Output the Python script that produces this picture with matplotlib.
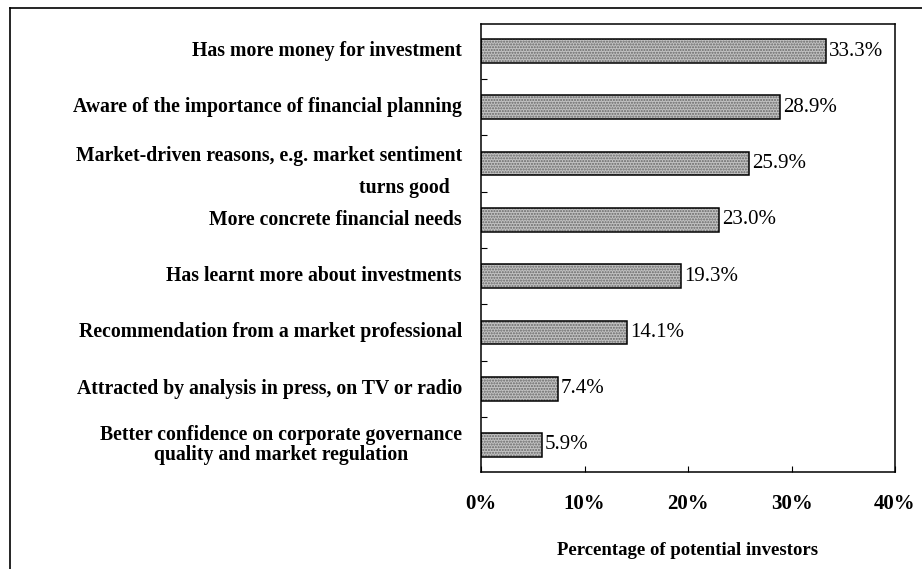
import matplotlib
matplotlib.use("Agg")
import matplotlib.pyplot as plt
from matplotlib.lines import Line2D
import numpy as np

# reasons, top to bottom
reasons = [
    "Has more money for investment",
    "Aware of the importance of financial planning",
    "Market-driven reasons, e.g. market sentiment",
    "More concrete financial needs",
    "Has learnt more about investments",
    "Recommendation from a market professional",
    "Attracted by analysis in press, on TV or radio",
    "Better confidence on corporate governance\nquality and market regulation",
]
# second line of the market-driven label, set a little left of the others
reason_2_tail = "turns good"
# share of potential investors (%)
shares = [33.3, 28.9, 25.9, 23.0, 19.3, 14.1, 7.4, 5.9]
x_ticks = [0, 10, 20, 30, 40]
x_tick_labels = ["0%", "10%", "20%", "30%", "40%"]

SERIF = ["Liberation Serif", "DejaVu Serif"]
LABEL_SIZE = 14.2

fig = plt.figure(figsize=(9.22, 5.69), dpi=100)
ax = fig.add_axes([481 / 922, 1 - 472 / 569, 414 / 922, 448 / 569])

pos = np.arange(len(shares))
# stippled grey fill, then a black outline on top
ax.barh(pos, shares, height=0.42, color="#c2c2c2", edgecolor="#666666",
        hatch="......", linewidth=0)
ax.barh(pos, shares, height=0.42, fill=False, edgecolor="black", linewidth=1.1)

for p, v in zip(pos, shares):
    ax.text(v + 0.3, p, f"{v:.1f}%", va="center", ha="left",
            fontsize=15, family=SERIF)

ax.set_xlim(0, 40)
ax.set_ylim(len(shares) - 0.52, -0.48)

# category labels, drawn next to the left spine
trans = ax.get_yaxis_transform()
for i, lab in enumerate(reasons):
    y = i - 0.14 if i == 2 else i
    ax.text(-0.046, y, lab, transform=trans, ha="right", va="center",
            multialignment="center", fontsize=LABEL_SIZE, fontweight="bold",
            family=SERIF, linespacing=1.05)
ax.text(-0.075, 2 + 0.44, reason_2_tail, transform=trans, ha="right", va="center",
        fontsize=LABEL_SIZE, fontweight="bold", family=SERIF)

ax.set_yticks([])
ax.set_yticks(np.arange(len(shares) - 1) + 0.5, minor=True)
ax.tick_params(axis="y", which="minor", direction="in", length=4, width=0.8)

ax.set_xticks(x_ticks)
ax.set_xticklabels(x_tick_labels, fontsize=15, fontweight="bold", family=SERIF)
ax.tick_params(axis="x", direction="in", length=4, width=0.8, pad=16)
ax.set_xlabel("Percentage of potential investors", fontsize=13.5, fontweight="bold",
              family=SERIF, labelpad=20)

for s in ax.spines.values():
    s.set_linewidth(1.1)

# outer frame lines (left and top)
fig.add_artist(Line2D([10 / 922, 10 / 922], [0, 1 - 8 / 569], color="black", lw=1.2))
fig.add_artist(Line2D([10 / 922, 1], [1 - 8 / 569, 1 - 8 / 569], color="black", lw=1.2))

fig.savefig("out.png", dpi=100)
